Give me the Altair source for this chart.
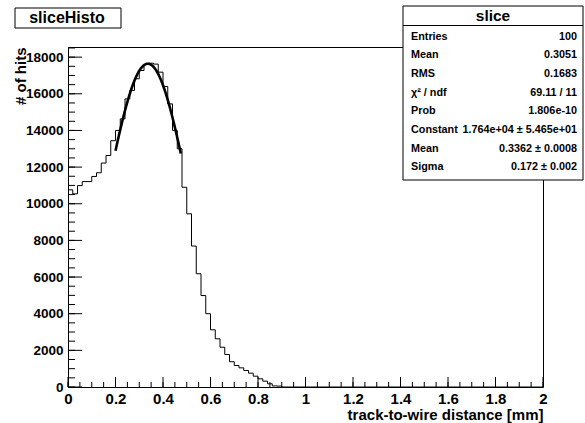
import altair as alt
import numpy as np
import pandas as pd

# ---- histogram contents (100 bins of 0.02 mm between 0 and 2 mm) ----
X_MIN, X_MAX, N_BINS = 0.0, 2.0, 100
counts = [10760, 10540, 10990, 11210, 11210, 11490, 11690, 12220, 12630, 13440,
          14000, 14630, 15720, 16180, 16820, 17270, 17600, 17670, 17620, 17180,
          16400, 15450, 14000, 13000, 10900, 9450, 7690, 6180, 4990, 4000,
          3120, 2630, 2170, 1775, 1380, 1170, 1045, 900, 756, 590,
          446, 318, 175, 60, 50]
counts = counts + [0] * (N_BINS - len(counts))

# ---- gaussian fit result ----
fit_constant = 1.764e4
fit_mean = 0.3362
fit_sigma = 0.172
fit_range = (0.20, 0.475)

# ---- statistics box ----
stats_title = "slice"
stats_labels = ["Entries", "Mean", "RMS", "χ² / ndf", "Prob", "Constant", "Mean", "Sigma"]
stats_values = ["100", "0.3051", "0.1683", "69.11 / 11", "1.806e-10",
                "1.764e+04 ± 5.465e+01", "0.3362 ± 0.0008", "0.172 ± 0.002"]

# ---- axis ticks ----
x_major = [round(0.2 * i, 1) for i in range(11)]
x_minor = [round(0.05 * i, 2) for i in range(41)]
y_major = [2000 * i for i in range(10)]
y_minor = [500 * i for i in range(38)]

W, H = 475, 340
FONT = "Liberation Sans"
y_top = 1.05 * max(counts)

bw = (X_MAX - X_MIN) / N_BINS
edges = [X_MIN + i * bw for i in range(N_BINS + 1)]
hist = pd.DataFrame({"x": edges, "n": counts + [counts[-1]]})

fx = np.linspace(fit_range[0], fit_range[1], 150)
fit = pd.DataFrame({"x": fx,
                    "n": fit_constant * np.exp(-0.5 * ((fx - fit_mean) / fit_sigma) ** 2)})

xs = alt.Scale(domain=[X_MIN, X_MAX], nice=False, zero=False)
ys = alt.Scale(domain=[0, y_top], nice=False)

x_axis = alt.Axis(values=x_major, format="~g", ticks=False, domain=False, grid=False,
                  labelFont=FONT, labelFontWeight="bold", labelFontSize=15,
                  labelPadding=4, labelColor="black", labelOverlap=False,
                  labelFlush=False,
                  title="track-to-wire distance [mm]", titleFont=FONT,
                  titleFontWeight="bold", titleFontSize=15, titleColor="black",
                  titleAnchor="end", titleAlign="right", titleBaseline="alphabetic",
                  titleX=W, titleY=32)
y_axis = alt.Axis(values=y_major, format="d", ticks=False, domain=False, grid=False,
                  labelFont=FONT, labelFontWeight="bold", labelFontSize=13.5,
                  labelPadding=5, labelColor="black", labelOverlap=False,
                  labelFlush=False,
                  title="# of hits", titleFont=FONT, titleFontWeight="bold",
                  titleFontSize=15, titleColor="black", titleAnchor="end",
                  titleAngle=270, titleAlign="right", titleBaseline="alphabetic",
                  titleX=-43, titleY=0)

histo = alt.Chart(hist).mark_line(interpolate="step-after", color="black",
                                  strokeWidth=1).encode(
    x=alt.X("x:Q", scale=xs, axis=x_axis),
    y=alt.Y("n:Q", scale=ys, axis=y_axis),
)

fit_line = alt.Chart(fit).mark_line(color="black", strokeWidth=2.6).encode(
    x=alt.X("x:Q", scale=xs, axis=x_axis), y=alt.Y("n:Q", scale=ys, axis=y_axis))

# ticks drawn inside the frame
def xticks(vals, length):
    return alt.Chart(pd.DataFrame({"t": vals})).mark_rule(color="black", strokeWidth=1).encode(
        x=alt.X("t:Q", scale=xs, axis=x_axis), y=alt.value(H), y2=alt.value(H - length))

def yticks(vals, length):
    return alt.Chart(pd.DataFrame({"t": vals})).mark_rule(color="black", strokeWidth=1).encode(
        y=alt.Y("t:Q", scale=ys, axis=y_axis), x=alt.value(0), x2=alt.value(length))

anchor = pd.DataFrame({"a": [0]})

# title box
title_box = alt.Chart(anchor).mark_rect(fill="white", stroke="black", strokeWidth=1).encode(
    x=alt.value(-53), x2=alt.value(53), y=alt.value(-39), y2=alt.value(-19))
title_txt = alt.Chart(anchor).mark_text(font=FONT, fontWeight="bold", fontSize=16,
                                        align="center", baseline="middle",
                                        color="black").encode(
    x=alt.value(-1), y=alt.value(-29), text=alt.value("sliceHisto"))

# statistics box
SB_L, SB_R, SB_T, SB_B = 335, 515, -41, 133
stats_box = alt.Chart(anchor).mark_rect(fill="white", stroke="black", strokeWidth=1).encode(
    x=alt.value(SB_L), x2=alt.value(SB_R), y=alt.value(SB_T), y2=alt.value(SB_B))
stats_sep = alt.Chart(anchor).mark_rule(color="black", strokeWidth=1).encode(
    x=alt.value(SB_L), x2=alt.value(SB_R), y=alt.value(-21.5))
stats_head = alt.Chart(anchor).mark_text(font=FONT, fontWeight="bold", fontSize=15.5,
                                         align="center", baseline="middle",
                                         color="black").encode(
    x=alt.value((SB_L + SB_R) / 2), y=alt.value(-31.5), text=alt.value(stats_title))
stats_lab = alt.Chart(anchor).mark_text(font=FONT, fontWeight="bold", fontSize=10.8,
                                        align="left", baseline="alphabetic",
                                        lineBreak="\n", lineHeight=18.7,
                                        color="black").encode(
    x=alt.value(SB_L + 8), y=alt.value(-7.5), text=alt.value("\n".join(stats_labels)))
stats_val = alt.Chart(anchor).mark_text(font=FONT, fontWeight="bold", fontSize=10.8,
                                        align="right", baseline="alphabetic",
                                        lineBreak="\n", lineHeight=18.7,
                                        color="black").encode(
    x=alt.value(SB_R - 6), y=alt.value(-7.5), text=alt.value("\n".join(stats_values)))

chart = alt.layer(
    histo, fit_line,
    xticks(x_minor, 5), xticks(x_major, 10),
    yticks(y_minor, 7), yticks(y_major, 14),
    title_box, title_txt,
    stats_box, stats_sep, stats_head, stats_lab, stats_val,
).properties(
    width=W, height=H,
    autosize=alt.AutoSizeParams(type="none"),
    padding={"left": 68, "top": 47, "right": 42, "bottom": 36},
    background="white",
).configure_view(stroke="black", strokeWidth=1)

chart.save("out.html", embed_options={"renderer": "svg", "actions": False})
